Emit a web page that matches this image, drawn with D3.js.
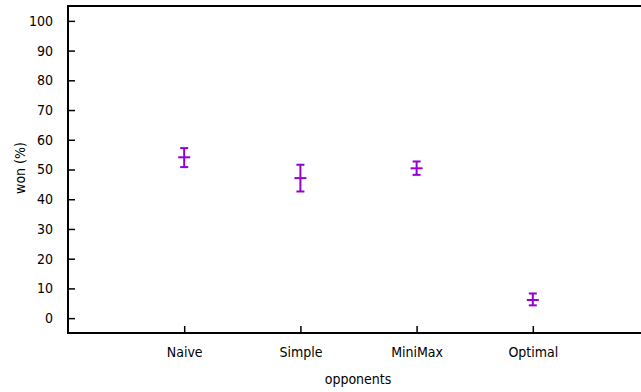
<!DOCTYPE html>
<html>
<head>
<meta charset="utf-8">
<script src="https://cdn.jsdelivr.net/npm/d3@7"></script>
<style>
body { margin: 0; background: #fff; }
text { font-family: "DejaVu Sans Condensed", "DejaVu Sans", sans-serif; font-stretch: condensed; font-size: 14px; fill: #000; }
</style>
</head>
<body>
<div id="chart"></div>
<script>
let opponents = ["Naive", "Simple", "MiniMax", "Optimal"];
let won = [54.1, 47.1, 50.4, 6.1];
let wonLow = [50.8, 42.6, 48.2, 4.3];
let wonHigh = [57.2, 51.6, 52.7, 8.3];
let yTicks = [0, 10, 20, 30, 40, 50, 60, 70, 80, 90, 100];

let W = 641, H = 392;
let margin = {top: 6, left: 68, bottom: 59};

let svg = d3.select("#chart")
    .append("svg")
    .attr("width", W)
    .attr("height", H);

let x = d3.scaleLinear()
    .domain([0, opponents.length + 1])
    .range([margin.left, 649]);

let y = d3.scaleLinear()
    .domain([-5, 105])
    .range([H - margin.bottom, margin.top]);

let color = "#9400d3";

// inward ticks like gnuplot
let xAxis = d3.axisBottom(x)
    .tickValues(opponents.map((d, i) => i + 1))
    .tickFormat((d) => opponents[d - 1])
    .tickSize(-7)
    .tickPadding(14);

let yAxis = d3.axisLeft(y)
    .tickValues(yTicks)
    .tickSize(-7)
    .tickPadding(15);

let gx = svg.append("g")
    .attr("transform", "translate(0," + (H - margin.bottom) + ")")
    .call(xAxis);

let gy = svg.append("g")
    .attr("transform", "translate(" + margin.left + ",0)")
    .call(yAxis);

[gx, gy].forEach((g) => {
    g.select(".domain").remove();
    g.selectAll(".tick line").attr("stroke", "#000").attr("stroke-width", 1.5);
    g.selectAll(".tick text").style("font-size", "14px");
});

// frame (top, left, bottom)
svg.append("path")
    .attr("d", "M" + W + "," + y(105) + "H" + x(0) + "V" + y(-5) + "H" + W)
    .attr("fill", "none")
    .attr("stroke", "#000")
    .attr("stroke-width", 2);

let bars = svg.append("g")
    .attr("stroke", color)
    .attr("stroke-width", 2)
    .attr("fill", "none");

opponents.forEach((d, i) => {
    let cx = x(i + 1);
    bars.append("line")
        .attr("x1", cx).attr("x2", cx)
        .attr("y1", y(wonLow[i])).attr("y2", y(wonHigh[i]));
    bars.append("line")
        .attr("x1", cx - 4).attr("x2", cx + 4)
        .attr("y1", y(wonLow[i])).attr("y2", y(wonLow[i]));
    bars.append("line")
        .attr("x1", cx - 4).attr("x2", cx + 4)
        .attr("y1", y(wonHigh[i])).attr("y2", y(wonHigh[i]));
    bars.append("line")
        .attr("x1", cx - 6).attr("x2", cx + 6)
        .attr("y1", y(won[i])).attr("y2", y(won[i]));
});

svg.append("text")
    .attr("x", 358)
    .attr("y", 384)
    .attr("text-anchor", "middle")
    .text("opponents");

svg.append("text")
    .attr("transform", "translate(25," + 168 + ") rotate(-90)")
    .attr("text-anchor", "middle")
    .text("won (%)");
</script>
</body>
</html>
